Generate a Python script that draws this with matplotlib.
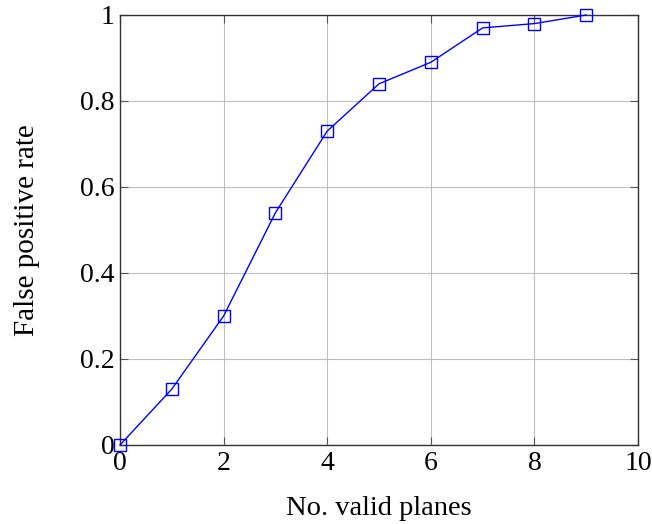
import matplotlib
matplotlib.use("Agg")
import matplotlib.pyplot as plt

x_planes = [0, 1, 2, 3, 4, 5, 6, 7, 8, 9]
fp_rate = [0.0, 0.13, 0.30, 0.54, 0.73, 0.84, 0.89, 0.97, 0.98, 1.0]
x_ticks = [0, 2, 4, 6, 8, 10]
y_ticks = [0, 0.2, 0.4, 0.6, 0.8, 1]
y_labels = ["0", "0.2", "0.4", "0.6", "0.8", "1"]

plt.rcParams['font.family'] = ['Liberation Serif', 'DejaVu Serif']
fig = plt.figure(figsize=(6.52, 5.24), dpi=100)
ax = fig.add_axes([120/652, 1-445/524, (638-120)/652, (445-15)/524])
ax.plot(x_planes, fp_rate, color='blue', lw=1.0, marker='s', markersize=8.5,
        markerfacecolor='none', markeredgecolor='blue', markeredgewidth=1.0, clip_on=False, zorder=3)
ax.set_xlim(0, 10)
ax.set_ylim(0, 1)
ax.set_xticks(x_ticks)
ax.set_xticklabels([str(t) for t in x_ticks])
ax.set_yticks(y_ticks)
ax.set_yticklabels(y_labels)
ax.grid(True, color='#bfbfbf', lw=0.8)
ax.set_axisbelow(True)
ax.tick_params(direction='in', top=True, right=True, length=6, width=0.8, color='#555555', labelsize=20, pad=4)
for s in ax.spines.values():
    s.set_color('#333333')
    s.set_linewidth(1.0)
ax.set_xlabel('No. valid planes', fontsize=20.5, va='baseline')
ax.xaxis.set_label_coords(0.5, (445-515)/430)
ax.set_ylabel('False positive rate', fontsize=21, va='baseline')
ax.yaxis.set_label_coords((34-120)/518, 0.5)
fig.savefig('out.png', dpi=100)
